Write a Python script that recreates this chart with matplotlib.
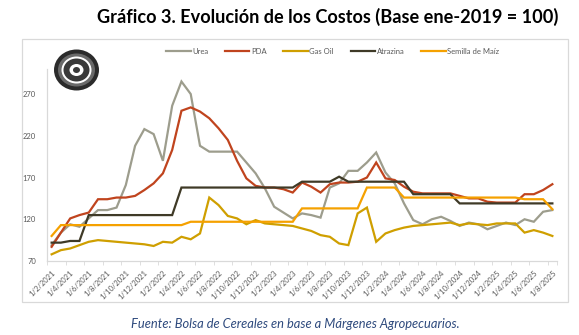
import matplotlib
matplotlib.use("Agg")
import matplotlib.pyplot as plt
from matplotlib.patches import Ellipse, Rectangle

# monthly series, Feb-2021 .. Aug-2025 (Base ene-2019 = 100)
urea = [89, 104, 114, 111, 121, 131, 131, 134, 161, 208, 228, 222, 190, 256, 285,
        270, 208, 201, 201, 201, 201, 188, 175, 157, 135, 128, 121, 127, 125, 122,
        158, 163, 178, 178, 188, 200, 176, 163, 139, 119, 114, 120, 123, 118, 112,
        116, 114, 108, 112, 116, 113, 120, 117, 129, 131]
pda = [87, 104, 121, 125, 128, 144, 144, 146, 146, 148, 155, 163, 175, 203, 250,
       254, 249, 241, 229, 215, 190, 169, 160, 158, 158, 156, 152, 164, 159, 152,
       162, 164, 164, 165, 170, 188, 169, 167, 159, 153, 151, 151, 151, 151, 148,
       145, 145, 141, 140, 140, 140, 150, 150, 155, 162]
gas_oil = [78, 83, 85, 89, 93, 95, 94, 93, 92, 91, 90, 88, 93, 92, 99,
           96, 103, 146, 137, 124, 121, 114, 119, 115, 114, 113, 112, 109, 106, 101,
           99, 91, 89, 127, 134, 93, 103, 107, 110, 112, 113, 114, 115, 116, 113,
           115, 114, 113, 115, 115, 115, 104, 107, 104, 100]
atrazina = [92, 92, 94, 94, 125, 125, 125, 125, 125, 125, 125, 125, 125, 125, 158,
            158, 158, 158, 158, 158, 158, 158, 158, 158, 158, 158, 158, 165, 165, 165,
            165, 171, 165, 165, 165, 165, 165, 165, 165, 150, 150, 150, 150, 150, 139,
            139, 139, 139, 139, 139, 139, 139, 139, 139, 139]
semilla = [100, 113, 113, 113, 113, 113, 113, 113, 113, 113, 113, 113, 113, 113, 113,
           117, 117, 117, 117, 117, 117, 117, 117, 117, 117, 117, 117, 133, 133, 133,
           133, 133, 133, 133, 158, 158, 158, 158, 146, 146, 146, 146, 146, 146, 146,
           146, 146, 146, 146, 146, 146, 144, 144, 144, 132]

months = []
for y in range(2021, 2026):
    for m in range(1, 13):
        if (y == 2021 and m < 2) or (y == 2025 and m > 8):
            continue
        months.append(f"1/{m}/{y}")

series = [("Urea", urea, "#9d9d8d"),
          ("PDA", pda, "#c0441e"),
          ("Gas Oil", gas_oil, "#cf9f00"),
          ("Atrazina", atrazina, "#3f3a27"),
          ("Semilla de Maíz", semilla, "#f5a100")]

plt.rcParams['font.family'] = ['Lato', 'DejaVu Sans']

fig = plt.figure(figsize=(5.79, 3.35), dpi=100)
W, H = 579, 335

# chart frame
fig.patches.append(Rectangle((22 / W, 1 - 302 / H), 546 / W, 263 / H,
                             transform=fig.transFigure, fill=False,
                             edgecolor="#d9d9d9", lw=0.9))

ax = fig.add_axes([47 / W, 1 - 261 / H, 510 / W, 192 / H])
x = list(range(len(months)))
for name, vals, col in series:
    ax.plot(x, vals, color=col, lw=1.6, label=name, solid_joinstyle="miter")

ax.set_xlim(-0.5, len(months) - 0.5)
ax.set_ylim(70, 300)
ax.set_yticks([70, 120, 170, 220, 270])
ax.set_xticks(x[::2])
ax.set_xticklabels(months[::2], rotation=45, ha="right", rotation_mode="anchor")
ax.set_xticks([i - 0.5 for i in x[::2]] + [len(months) - 0.5], minor=True)
ax.tick_params(axis="x", which="major", length=0, pad=6, labelsize=5.5, labelcolor="#595959")
ax.tick_params(axis="x", which="minor", length=3, color="#d9d9d9")
ax.tick_params(axis="y", length=0, pad=8, labelsize=5.5, labelcolor="#595959")
for s in ["top", "right"]:
    ax.spines[s].set_visible(False)
for s in ["left", "bottom"]:
    ax.spines[s].set_color("#d9d9d9")
    ax.spines[s].set_linewidth(0.9)

leg = ax.legend(loc="upper left", bbox_to_anchor=(0.22, 1.145), ncol=5, frameon=False,
                fontsize=5.5, handlelength=3.2, handletextpad=0.2, columnspacing=2.2)
for t in leg.get_texts():
    t.set_color("#595959")

# seal logo
cx, cy = 76.5 / W, 1 - 70 / H
for w, h, fc in [(45, 41, "#2b2b2b"), (37, 33, "#6a6a6a"), (30, 27, "#ffffff"),
                 (26, 23, "#3a3a3a"), (14, 12, "#ffffff"), (7, 6, "#3a3a3a")]:
    fig.patches.append(Ellipse((cx, cy), w / W, h / H, transform=fig.transFigure,
                               facecolor=fc, edgecolor="none"))

fig.text(328 / W, 1 - 17 / H, "Gráfico 3. Evolución de los Costos (Base ene-2019 = 100)",
         ha="center", va="center", fontsize=13.1, fontweight="bold", color="#000000")
fig.text(295 / W, 1 - 324 / H, "Fuente: Bolsa de Cereales en base a Márgenes Agropecuarios.",
         ha="center", va="center", fontsize=9.3, style="italic", color="#2e4a7d")

fig.savefig("out.png", dpi=100)
